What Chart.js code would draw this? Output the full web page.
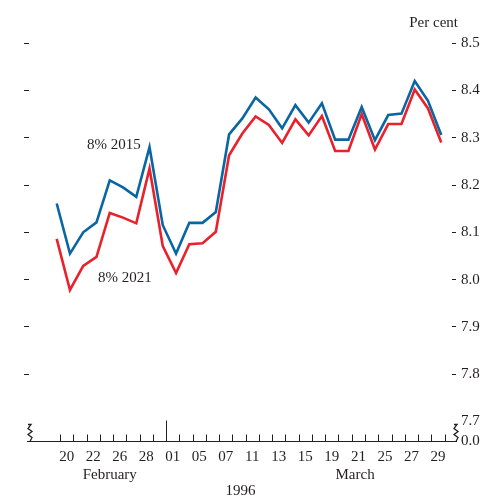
<!DOCTYPE html>
<html>
<head>
<meta charset="utf-8">
<script src="https://cdn.jsdelivr.net/npm/chart.js@4.4.1/dist/chart.umd.min.js"></script>
<style>
  html, body { margin: 0; padding: 0; background: #fff; }
  #wrap { width: 487px; height: 498px; }
</style>
</head>
<body>
<div id="wrap"><canvas id="yields"></canvas></div>
<script>
// trading days, 19 February - 29 March 1996
const days = ['19', '20', '21', '22', '23', '26', '27', '28', '29',
  '01', '04', '05', '06', '07', '08', '11', '12', '13', '14', '15',
  '18', '19', '20', '21', '22', '25', '26', '27', '28', '29'];
const months = ['February', 'March'];
const year = '1996';

// gross redemption yields, per cent
const gilt2015 = [8.161, 8.055, 8.100, 8.121, 8.210, 8.195, 8.175, 8.280, 8.115,
  8.055, 8.120, 8.120, 8.143, 8.307, 8.341, 8.385, 8.360, 8.320, 8.369, 8.332,
  8.373, 8.296, 8.296, 8.365, 8.295, 8.348, 8.351, 8.420, 8.378, 8.306];
const gilt2021 = [8.086, 7.978, 8.029, 8.048, 8.141, 8.131, 8.119, 8.235, 8.071,
  8.014, 8.075, 8.077, 8.101, 8.263, 8.309, 8.345, 8.327, 8.289, 8.339, 8.305,
  8.346, 8.272, 8.272, 8.350, 8.275, 8.329, 8.329, 8.402, 8.362, 8.290];

const yTicks = [7.7, 7.8, 7.9, 8.0, 8.1, 8.2, 8.3, 8.4, 8.5];

// the axis is broken below 7.7, the base line stands for zero
const Y_BASE = 7.6586;
const Y_TOP = 8.53;
const X_MIN = -2.089;
const X_MAX = 29.81;

const ink = '#231f20';
const font = { family: 'Liberation Serif', size: 15 };

const baseTicks = () => [Y_BASE, ...yTicks].map(v => ({ value: v }));
const dashColor = c => (c.tick && c.tick.value > 7.75 ? ink : 'rgba(0,0,0,0)');

function zigzag(ctx, x, base) {
  ctx.moveTo(x - 2, base - 17);
  ctx.lineTo(x + 1, base - 17);
  ctx.lineTo(x - 2, base - 13);
  ctx.lineTo(x + 2, base - 10);
  ctx.lineTo(x - 2, base - 7);
  ctx.lineTo(x + 2, base - 4);
  ctx.lineTo(x, base);
}

const axisMarks = {
  id: 'axisMarks',
  afterDraw(chart, args, opts) {
    const { ctx, chartArea: a, scales: { x, y } } = chart;
    const base = Math.round(y.getPixelForValue(Y_BASE)) + 0.5;
    ctx.save();
    ctx.strokeStyle = ink;
    ctx.lineWidth = 1;
    ctx.beginPath();
    ctx.moveTo(a.left - 2, base);
    ctx.lineTo(a.right + 5, base);
    days.forEach((d, i) => {
      const px = Math.round(x.getPixelForValue(i + 0.25)) + 0.5;
      const major = days[i + 1] === '01';
      ctx.moveTo(px, base);
      ctx.lineTo(px, base - (major ? 21 : 7));
    });
    ctx.stroke();
    ctx.lineWidth = 1.3;
    ctx.beginPath();
    zigzag(ctx, a.left + 1, base);
    zigzag(ctx, a.right + 4, base);
    ctx.stroke();

    ctx.fillStyle = ink;
    ctx.font = '15px "Liberation Serif"';
    ctx.textBaseline = 'middle';
    ctx.textAlign = 'center';
    opts.tags.forEach(t => {
      ctx.fillText(t.text, x.getPixelForValue(t.x), y.getPixelForValue(t.y));
    });
    ctx.textAlign = 'right';
    ctx.fillText('Per cent', a.right + 6, a.top - 6);
    ctx.restore();
  }
};

new Chart(document.getElementById('yields'), {
  type: 'line',
  data: {
    datasets: [{
      label: '8% 2015',
      data: gilt2015.map((v, i) => ({ x: i, y: v })),
      borderColor: '#0a65a3',
      borderWidth: 2.6,
      order: 1
    }, {
      label: '8% 2021',
      data: gilt2021.map((v, i) => ({ x: i, y: v })),
      borderColor: '#e8212b',
      borderWidth: 2.6,
      order: 2
    }]
  },
  options: {
    responsive: true,
    maintainAspectRatio: false,
    animation: false,
    layout: { padding: { top: 29, left: 0, right: 0, bottom: 0 } },
    elements: {
      point: { radius: 0 },
      line: { tension: 0, borderJoinStyle: 'miter', fill: false }
    },
    datasets: { line: { xAxisID: 'x', yAxisID: 'y' } },
    plugins: {
      legend: { display: false },
      tooltip: { enabled: false },
      axisMarks: {
        tags: [
          { text: '8% 2015', x: 4.32, y: 8.284 },
          { text: '8% 2021', x: 5.15, y: 8.003 }
        ]
      }
    },
    scales: {
      x: {
        type: 'linear', position: 'bottom', weight: 1,
        min: X_MIN, max: X_MAX,
        grid: { display: false, drawTicks: false },
        border: { display: false },
        afterBuildTicks: s => {
          s.ticks = days.map((d, i) => ({ value: i - 0.25 })).filter((t, i) => i % 2 === 1);
        },
        ticks: {
          autoSkip: false, maxRotation: 0, padding: 7, color: ink, font,
          callback: v => days[Math.round(v + 0.25)]
        },
        afterFit: s => { s.height = 22; }
      },
      month: {
        type: 'linear', position: 'bottom', weight: 2,
        min: X_MIN, max: X_MAX,
        grid: { display: false, drawTicks: false },
        border: { display: false },
        afterBuildTicks: s => { s.ticks = [{ value: 4 }, { value: 22.5 }]; },
        ticks: {
          autoSkip: false, maxRotation: 0, padding: 3, color: ink, font,
          callback: (v, i) => months[i]
        },
        title: { display: true, text: year, color: ink, font, padding: { top: 0, bottom: -2 } },
        afterFit: s => { s.height = 35; }
      },
      y: {
        position: 'right',
        min: Y_BASE, max: Y_TOP,
        afterBuildTicks: s => { s.ticks = baseTicks(); },
        grid: { drawOnChartArea: false, drawTicks: true, tickLength: 4, tickColor: dashColor },
        border: { display: false },
        ticks: {
          autoSkip: false, padding: 5, color: ink, font,
          callback: v => (v === Y_BASE ? '0.0' : v.toFixed(1))
        },
        afterFit: s => { s.width = 35; }
      },
      yl: {
        position: 'left',
        min: Y_BASE, max: Y_TOP,
        afterBuildTicks: s => { s.ticks = baseTicks(); },
        grid: { drawOnChartArea: false, drawTicks: true, tickLength: 5, tickColor: dashColor },
        border: { display: false },
        ticks: { display: false },
        afterFit: s => { s.width = 29; }
      }
    }
  },
  plugins: [axisMarks]
});
</script>
</body>
</html>
